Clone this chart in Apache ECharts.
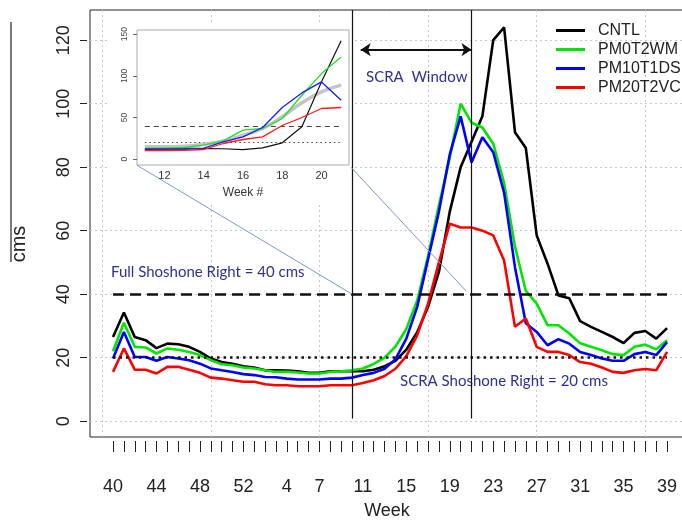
<!DOCTYPE html>
<html>
<head>
<meta charset="utf-8">
<title>Weekly flow, SCRA window</title>
<script src="https://cdn.jsdelivr.net/npm/echarts@6/dist/echarts.min.js"></script>
<style>
  html, body { margin: 0; padding: 0; background: #fff; }
  #chart { width: 682px; height: 523px; }
</style>
</head>
<body>
<div id="chart"></div>
<script>
// weeks 40..52 then 1..39, one point per week
const weeks = [40, 41, 42, 43, 44, 45, 46, 47, 48, 49, 50, 51, 52,
  1, 2, 3, 4, 5, 6, 7, 8, 9, 10, 11, 12, 13, 14, 15, 16, 17, 18, 19, 20,
  21, 22, 23, 24, 25, 26, 27, 28, 29, 30, 31, 32, 33, 34, 35, 36, 37, 38, 39]
const xLabelIdx = [0, 4, 8, 12, 16, 19, 23, 27, 31, 35, 39, 43, 47, 51]
const xGridIdx = [-1, 9, 19, 29, 39, 49]
const yTicks = [0, 20, 40, 60, 80, 100, 120]

const cntl = [26.5, 34.2, 26.5, 25.5, 23, 24.4, 24.2, 23.4, 21.8, 19.7, 18.6, 18.1, 17.3,
  16.9, 16, 16, 15.9, 15.7, 15.2, 15.2, 15.7, 15.7, 15.7, 15.7, 16.2, 17.3, 19,
  22.5, 28, 36, 47, 66, 80, 88, 96, 120, 124, 91, 86, 58.5, 49.6, 39.6, 38.7,
  31.5, 29.7, 28.1, 26.5, 24.6, 27.8, 28.4, 26, 29.3]
const pm0t2wm = [22, 31, 23.4, 23.2, 21.3, 22.9, 22.5, 21.8, 20.8, 19.2, 17.9, 17.6, 16.9,
  16.6, 16, 15.5, 15.5, 15.3, 15, 15, 15.5, 15.7, 16, 16.6, 18, 20, 23.5,
  29, 38, 52, 68, 83, 100, 94, 92.5, 87.4, 75, 55, 41, 37, 30.2, 30.2, 27.6,
  24.5, 23.4, 22.3, 21.1, 20.8, 23.4, 24.1, 22.6, 25.5]
const pm10t1ds = [19.7, 28.1, 20.2, 20.2, 19, 20.2, 19.7, 19.2, 18.1, 16.6, 16, 15.5, 14.8,
  14.5, 13.9, 13.8, 13.4, 13.1, 13.1, 13.1, 13.4, 13.4, 13.7, 14.5, 15.2, 16.5, 19.5,
  26, 36, 51, 66, 84, 96, 81.5, 89.4, 84.7, 72, 48.5, 30.8, 28.1, 23.9, 25.8, 24.4,
  21.8, 20.8, 19.7, 19, 19, 21.1, 21.8, 20.8, 24.9]
const pm20t2vc = [15.5, 22.9, 16.2, 16.2, 15, 17.1, 17.1, 16.2, 15.2, 13.7, 13.4, 12.9, 12.4,
  12.4, 11.6, 11.3, 11.3, 11, 11, 11, 11.3, 11.3, 11.3, 12, 12.9, 14.2, 16.5,
  20.5, 27, 37, 50, 62.2, 61, 61, 60, 58.5, 50.6, 29.7, 32.3, 23.4, 21.8, 21.8, 20.8,
  18.6, 18.1, 16.9, 15.5, 15.2, 16, 16.4, 16, 21.8]

const fullRight = 40
const scraRight = 20
const scraWindowIdx = [22, 33]   // week 10 and week 21

// inset: weeks 11..21
const insetWeeks = [11, 12, 13, 14, 15, 16, 17, 18, 19, 20, 21]
const insetTicks = [12, 14, 16, 18, 20]
const insetYTicks = [0, 50, 100, 150]
const insetGray = [14.8, 14.8, 15.5, 18, 22, 28.8, 36.8, 50.8, 67.6, 80.8, 88.8]
const insetCntl = [11.6, 12, 12, 12.8, 12.5, 11.5, 13.5, 19.6, 38.8, 93, 142]
const insetPm0 = [13.2, 13.2, 14, 16.8, 22, 34.8, 36.8, 48.8, 76.7, 102.7, 122.7]
const insetPm10 = [12.4, 12.4, 12.6, 13.2, 20.8, 26.8, 38, 62, 79.5, 92.7, 70.8]
const insetPm20 = [10.4, 10.4, 10.6, 11.6, 18.8, 23.6, 26.8, 40.4, 50, 60.8, 62]

// zoom connectors: [idx, cms] pairs in main chart space
const connectors = [
  [[2.2, 80.6], [22, 40]],
  [[21.9, 80], [32.5, 41]]
]

const textFont = 'Liberation Sans, Arial, sans-serif'
const noteColor = '#2e3192'

const chart = echarts.init(document.getElementById('chart'), null, { renderer: 'canvas' })

const mainLine = (name, values, color, width) => ({
  name,
  type: 'line',
  xAxisIndex: 0,
  yAxisIndex: 0,
  data: values.map((v, i) => [i, v]),
  symbol: 'none',
  lineStyle: { color, width },
  itemStyle: { color },
  z: 2
})

const insetLine = (name, values, color, width, smooth) => ({
  name,
  type: 'line',
  xAxisIndex: 2,
  yAxisIndex: 1,
  data: values.map((v, i) => [insetWeeks[i], v]),
  symbol: 'none',
  smooth: !!smooth,
  lineStyle: { color, width },
  itemStyle: { color },
  z: 6
})

const last = weeks.length - 1

const option = {
  animation: false,
  backgroundColor: '#fff',
  grid: [
    { left: 90, top: 10, right: -2, bottom: 86, show: true, backgroundColor: '#fff',
      borderColor: '#222', borderWidth: 1, containLabel: false, outerBoundsMode: 'none' },
    { left: 137, top: 30, width: 212, height: 135, show: true, backgroundColor: '#fff',
      borderColor: '#aaa', borderWidth: 1, containLabel: false, outerBoundsMode: 'none', z: 5 }
  ],
  xAxis: [
    {
      type: 'value', gridIndex: 0, min: -2.12, max: 52.56, offset: 4, position: 'bottom',
      axisLine: { show: false, onZero: false },
      axisTick: { show: true, customValues: weeks.map((w, i) => i), length: 11,
        lineStyle: { color: '#222', width: 1 } },
      axisLabel: { customValues: xLabelIdx, formatter: v => String(weeks[Math.round(v)]),
        fontSize: 18, color: '#222', margin: 37, fontFamily: textFont },
      splitLine: { show: false },
      name: 'Week', nameLocation: 'middle', nameGap: 61,
      nameTextStyle: { fontSize: 18, color: '#222', fontFamily: textFont }
    },
    {
      type: 'value', gridIndex: 0, min: -2.12, max: 52.56, position: 'top',
      axisLine: { show: false, onZero: false },
      axisTick: { show: false, customValues: xGridIdx },
      axisLabel: { show: false, customValues: xGridIdx },
      splitLine: { show: true, lineStyle: { color: '#c8c8c8', type: [2, 3], width: 1 } }
    },
    {
      type: 'value', gridIndex: 1, min: 10.6, max: 21.4, z: 5, position: 'bottom',
      axisLine: { show: false, onZero: false },
      axisTick: { show: false, customValues: insetTicks },
      axisLabel: { customValues: insetTicks, fontSize: 11, color: '#333', margin: 5,
        fontFamily: textFont },
      splitLine: { show: false },
      name: 'Week #', nameLocation: 'middle', nameGap: 22,
      nameTextStyle: { fontSize: 12, color: '#333', fontFamily: textFont }
    }
  ],
  yAxis: [
    {
      type: 'value', gridIndex: 0, min: -5, max: 129.5, offset: 3, position: 'left',
      axisLine: { show: false, onZero: false },
      axisTick: { show: true, customValues: yTicks, length: 7,
        lineStyle: { color: '#222', width: 1 } },
      axisLabel: { customValues: yTicks, rotate: 90, fontSize: 18, color: '#222',
        margin: 14, fontFamily: textFont },
      splitLine: { show: true, lineStyle: { color: '#c8c8c8', type: [2, 3], width: 1 } }
    },
    {
      type: 'value', gridIndex: 1, min: -7, max: 155, z: 5, position: 'left',
      axisLine: { show: false, onZero: false },
      axisTick: { show: true, customValues: insetYTicks, length: 4,
        lineStyle: { color: '#666', width: 1 } },
      axisLabel: { customValues: insetYTicks, rotate: 90, fontSize: 8.5, color: '#444',
        margin: 8, fontFamily: textFont },
      splitLine: { show: false }
    }
  ],
  legend: {
    data: ['CNTL', 'PM0T2WM', 'PM10T1DS', 'PM20T2VC'],
    orient: 'vertical', left: 556, top: 22, padding: 0,
    icon: 'rect', itemWidth: 29, itemHeight: 3, itemGap: 2,
    selectedMode: false,
    textStyle: { fontSize: 16, color: '#222', fontFamily: textFont, lineHeight: 17,
      padding: [0, 0, 0, 8] }
  },
  graphic: [
    // white panel behind the inset plot
    { type: 'rect', left: 110, top: 22, shape: { width: 245, height: 180 },
      style: { fill: '#fff' }, z: 3 },
    { type: 'line', shape: { x1: 11, y1: 22, x2: 11, y2: 262 },
      style: { stroke: '#222', lineWidth: 1.2 }, z: 3 },
    { type: 'text', x: 19, y: 244, rotation: Math.PI / 2,
      style: { text: 'cms', fontSize: 20, fill: '#222', fontFamily: textFont,
        align: 'center', verticalAlign: 'middle' }, z: 3 },
    { type: 'text', x: 111, y: 272,
      style: { text: 'Full Shoshone Right = 40 cms', fontSize: 15, fill: noteColor,
        fontFamily: 'Lato, sans-serif', verticalAlign: 'middle' }, z: 3 },
    { type: 'text', x: 400, y: 381,
      style: { text: 'SCRA Shoshone Right = 20 cms', fontSize: 15, fill: noteColor,
        fontFamily: 'Lato, sans-serif', verticalAlign: 'middle' }, z: 3 },
    { type: 'text', x: 366, y: 77,
      style: { text: 'SCRA  Window', fontSize: 15, fill: noteColor,
        fontFamily: 'Lato, sans-serif', verticalAlign: 'middle' }, z: 3 }
  ],
  series: [
    {
      name: 'refs', type: 'line', xAxisIndex: 0, yAxisIndex: 0, data: [], z: 1,
      markLine: {
        silent: true, symbol: 'none', label: { show: false },
        data: [
          [{ coord: [0, fullRight], lineStyle: { color: '#111', width: 2.5, type: [11, 6] } },
            { coord: [last, fullRight] }],
          [{ coord: [0, scraRight], lineStyle: { color: '#111', width: 2.5, type: [2.5, 4] } },
            { coord: [last, scraRight] }],
          [{ coord: [scraWindowIdx[0], 0.8], lineStyle: { color: '#111', width: 1.2, type: 'solid' } },
            { coord: [scraWindowIdx[0], 129.5] }],
          [{ coord: [scraWindowIdx[1], 0.8], lineStyle: { color: '#111', width: 1.2, type: 'solid' } },
            { coord: [scraWindowIdx[1], 129.5] }]
        ]
      }
    },
    {
      name: 'arrow', type: 'line', xAxisIndex: 0, yAxisIndex: 0, data: [], z: 4,
      markLine: {
        silent: true, symbol: ['arrow', 'arrow'], symbolSize: 10, label: { show: false },
        lineStyle: { color: '#111', width: 2, type: 'solid' },
        data: [[{ coord: [scraWindowIdx[0] + 0.8, 117] }, { coord: [scraWindowIdx[1], 117] }]]
      }
    },
    mainLine('CNTL', cntl, '#000000', 2.6),
    mainLine('PM0T2WM', pm0t2wm, '#00e600', 2.6),
    mainLine('PM10T1DS', pm10t1ds, '#0000ff', 2.6),
    mainLine('PM20T2VC', pm20t2vc, '#ff0000', 2.6),
    {
      name: 'inset refs', type: 'line', xAxisIndex: 2, yAxisIndex: 1, data: [], z: 6,
      markLine: {
        silent: true, symbol: 'none', label: { show: false },
        data: [
          [{ coord: [insetWeeks[0], fullRight], lineStyle: { color: '#444', width: 1.2, type: [5, 4] } },
            { coord: [insetWeeks[insetWeeks.length - 1], fullRight] }],
          [{ coord: [insetWeeks[0], scraRight], lineStyle: { color: '#444', width: 1, type: [1.5, 3] } },
            { coord: [insetWeeks[insetWeeks.length - 1], scraRight] }]
        ]
      }
    },
    insetLine('inset mean', insetGray, '#c4c4c4', 3.5, true),
    insetLine('inset CNTL', insetCntl, '#111111', 1.2),
    insetLine('inset PM0T2WM', insetPm0, '#22e022', 1.3),
    insetLine('inset PM10T1DS', insetPm10, '#1a1aff', 1.3),
    insetLine('inset PM20T2VC', insetPm20, '#ff1a1a', 1.3),
    {
      name: 'connectors', type: 'line', xAxisIndex: 0, yAxisIndex: 0, data: [], z: 7,
      markLine: {
        silent: true, symbol: 'none', label: { show: false },
        lineStyle: { color: '#7d9cbf', width: 1, type: 'solid' },
        data: connectors.map(c => [{ coord: c[0] }, { coord: c[1] }])
      }
    }
  ]
}

chart.setOption(option)
</script>
</body>
</html>
